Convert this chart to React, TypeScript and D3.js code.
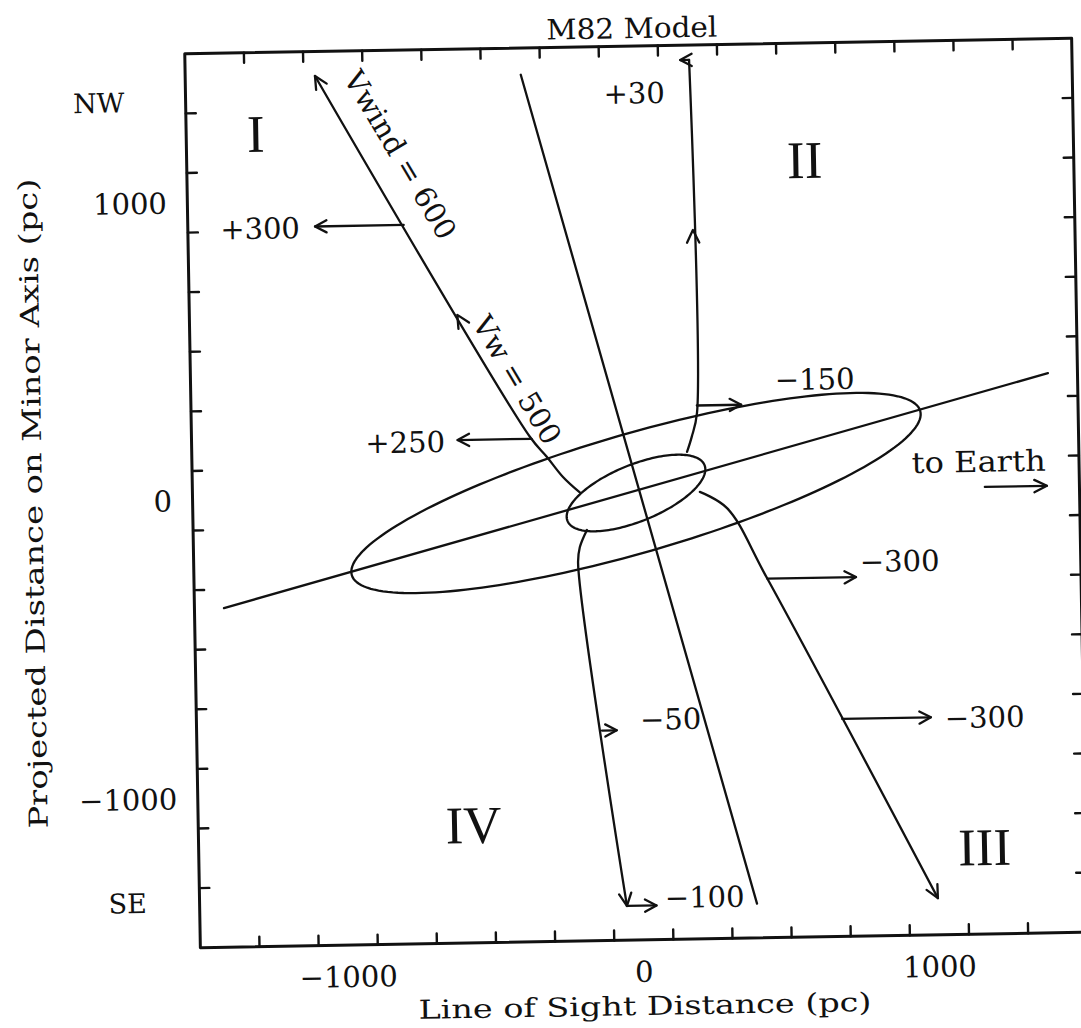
import React from "react";
import * as d3 from "d3";

// ---------- data (in pc) ----------
const X_DOMAIN: [number, number] = [-1500, 1500];
const Y_DOMAIN: [number, number] = [-1500, 1500];
const TICK_STEP = 200;
const MAJOR_TICKS = [-1000, 0, 1000];
const X_TICK_LABELS = ["\u22121000", "0", "1000"];
const Y_TICK_LABELS = ["\u22121000", "0", "1000"];

const TITLE = "M82 Model";
const X_TITLE = "Line of Sight Distance (pc)";
const Y_TITLE = "Projected Distance on Minor Axis (pc)";

// galaxy disk (major axis) and minor axis
const DISK_AXIS: [number, number][] = [[-1400, -362], [1400, 378]];
const MINOR_AXIS: [number, number][] = [[-365, 1410], [385, -1385]];
const OUTER_DISK = { a: 1000, b: 200, angle: 15 };
const INNER_DISK = { a: 250, b: 95, angle: 21 };

// outflow streamlines (cone edges)
const STREAM_NW: [number, number][] = [[-190, 5], [-246, 58], [-299, 126], [-355, 194], [-1061, 1418]];
const STREAM_NE: [number, number][] = [[175, 135], [192, 186], [211, 265], [205, 1450]];
const STREAM_SE: [number, number][] = [[216, 0], [307, -56], [438, -293], [997, -1377]];
const STREAM_SW: [number, number][] = [[-168, -121], [-193, -178], [-200, -231], [-55, -1385]];
const STREAMS = { NW: STREAM_NW, NE: STREAM_NE, SE: STREAM_SE, SW: STREAM_SW };

// line-of-sight velocity arrows (km/s), attached to a streamline at height Y
const VEL_LABELS = ["+300", "+250", "+30", "\u2212150", "\u2212300", "\u2212300", "\u221250", "\u2212100"];
const VEL_VALUES = [300, 250, 30, -150, -300, -300, -50, -100];
const VEL_STREAM = ["NW", "NW", "NE", "NE", "SE", "SE", "SW", "SW"];
const VEL_Y = [913, 188, 1450, 290, -295, -770, -795, -1385];
const VEL_LABEL_X = [-1121, -643, 121, 476, 753, 1031, 0, 74];
const VEL_LABEL_Y = [875, 149, 1307, 337, -278, -807, -795, -1394];
const VEL_LABEL_ANCHOR = ["end", "end", "end", "start", "start", "start", "start", "start"];

// flow-direction arrowheads along the streamlines
const FLOW_STREAM = ["NW", "NW", "NE", "SE", "SW"];
const FLOW_Y = [1418, 608, 879, -1377, -1385];

// region labels
const REGION_LABELS = ["I", "II", "III", "IV"];
const REGION_X = [-1265, 590, 1158, -569];
const REGION_Y = [1167, 1047, -1269, -1165];

const COMPASS_LABELS = ["NW", "SE"];
const COMPASS_X = [-1794, -1743];
const COMPASS_Y = [1307, -1380];

const WIND_LABELS = ["Vwind = 600", "Vw = 500"];
const WIND_X = [-778, -396];
const WIND_Y = [1148, 386];

const EARTH_LABEL = "to Earth";
const EARTH_LABEL_POS: [number, number] = [934, 51];
const EARTH_ARROW: [number, number][] = [[1180, 0], [1390, 0]];

// ---------- helpers ----------
type Pt = [number, number];

function onStream(pts: Pt[], yv: number): Pt {
  for (let i = 0; i < pts.length - 1; i++) {
    const [x0, y0] = pts[i];
    const [x1, y1] = pts[i + 1];
    if ((yv - y0) * (yv - y1) <= 0 && y0 !== y1) {
      const t = (yv - y0) / (y1 - y0);
      return [x0 + t * (x1 - x0), yv];
    }
  }
  return pts[pts.length - 1];
}

function headPath(tip: Pt, ang: number, len = 14, spread = 26): string {
  const s = (spread * Math.PI) / 180;
  const a1 = ang + Math.PI - s;
  const a2 = ang + Math.PI + s;
  return `M${tip[0] + len * Math.cos(a1)},${tip[1] + len * Math.sin(a1)}L${tip[0]},${tip[1]}L${tip[0] + len * Math.cos(a2)},${tip[1] + len * Math.sin(a2)}`;
}

const FONT = "'DejaVu Serif', serif";

export default function App() {
  const W = 1081;
  const H = 1028;
  const FR = { left: 192.5, right: 1079.5, top: 46, bottom: 940 };
  const x = d3.scaleLinear().domain(X_DOMAIN).range([FR.left, FR.right]);
  const y = d3.scaleLinear().domain(Y_DOMAIN).range([FR.bottom, FR.top]);
  const px = (p: Pt): Pt => [x(p[0]), y(p[1])];

  const straight = d3.line<Pt>().x((d) => x(d[0])).y((d) => y(d[1]));
  const smooth = d3
    .line<Pt>()
    .x((d) => x(d[0]))
    .y((d) => y(d[1]))
    .curve(d3.curveCatmullRom.alpha(0.5));

  const ellipse = (e: { a: number; b: number; angle: number }) => {
    const c = Math.cos((e.angle * Math.PI) / 180);
    const s = Math.sin((e.angle * Math.PI) / 180);
    const pts: Pt[] = d3.range(0, 360, 2).map((t) => {
      const r = (t * Math.PI) / 180;
      const u = e.a * Math.cos(r);
      const v = e.b * Math.sin(r);
      return [u * c - v * s, u * s + v * c];
    });
    return straight(pts) + "Z";
  };

  const ticks = d3.range(X_DOMAIN[0] + TICK_STEP / 2 + 100, X_DOMAIN[1], TICK_STEP);
  const isMajor = (t: number) => MAJOR_TICKS.includes(t);
  const minorLen = 10;
  const majorLen = 18;

  const lineAngle = (pts: Pt[], yv: number) => {
    for (let i = 0; i < pts.length - 1; i++) {
      const [, y0] = pts[i];
      const [, y1] = pts[i + 1];
      if ((yv - y0) * (yv - y1) <= 0) {
        const a = px(pts[i]);
        const b = px(pts[i + 1]);
        return Math.atan2(b[1] - a[1], b[0] - a[0]);
      }
    }
    const a = px(pts[pts.length - 2]);
    const b = px(pts[pts.length - 1]);
    return Math.atan2(b[1] - a[1], b[0] - a[0]);
  };

  const nwA = px(STREAM_NW[STREAM_NW.length - 1]);
  const nwB = px(STREAM_NW[STREAM_NW.length - 2]);
  const windAngle = (Math.atan2(nwB[1] - nwA[1], nwB[0] - nwA[0]) * 180) / Math.PI;

  const stroke = "#111";

  return (
    <svg
      width={W}
      height={H}
      viewBox={`0 0 ${W} ${H}`}
      style={{ position: "absolute", left: 0, top: 0, background: "#fff" }}
    >
      <rect x={0} y={0} width={W} height={H} fill="#fff" />
      <g transform="rotate(-1 636 493)" fill="none" stroke={stroke} strokeLinecap="round" strokeLinejoin="round">
        <rect x={FR.left} y={FR.top} width={FR.right - FR.left} height={FR.bottom - FR.top} strokeWidth={3} />
        {ticks.map((t) => {
          const L = isMajor(t) ? majorLen : minorLen;
          return (
            <g key={"t" + t} strokeWidth={2.4}>
              <line x1={x(t)} x2={x(t)} y1={FR.bottom} y2={FR.bottom - L} />
              <line x1={x(t)} x2={x(t)} y1={FR.top} y2={FR.top + L} />
              <line y1={y(t)} y2={y(t)} x1={FR.left} x2={FR.left + L} />
              <line y1={y(t)} y2={y(t)} x1={FR.right} x2={FR.right - L} />
            </g>
          );
        })}

        <path d={straight(DISK_AXIS) || ""} strokeWidth={2.3} />
        <path d={straight(MINOR_AXIS) || ""} strokeWidth={2.3} />
        <path d={ellipse(OUTER_DISK)} strokeWidth={2.3} />
        <path d={ellipse(INNER_DISK)} strokeWidth={2.3} />

        {Object.entries(STREAMS).map(([k, pts]) => (
          <path key={k} d={smooth(pts) || ""} strokeWidth={2.3} />
        ))}

        {FLOW_STREAM.map((k, i) => {
          const pts = STREAMS[k as keyof typeof STREAMS];
          const p = px(onStream(pts, FLOW_Y[i]));
          const a = lineAngle(pts, FLOW_Y[i]);
          return <path key={"f" + i} d={headPath(p, a)} strokeWidth={2.3} />;
        })}

        {VEL_VALUES.map((v, i) => {
          const pts = STREAMS[VEL_STREAM[i] as keyof typeof STREAMS];
          const o = onStream(pts, VEL_Y[i]);
          const e: Pt = [o[0] - v, VEL_Y[i]];
          const a = px(o);
          const b = px(e);
          const ang = Math.atan2(b[1] - a[1], b[0] - a[0]);
          return (
            <g key={"v" + i} strokeWidth={2.3}>
              <line x1={a[0]} y1={a[1]} x2={b[0]} y2={b[1]} />
              <path d={headPath(b, ang, 13, 28)} />
            </g>
          );
        })}

        {(() => {
          const a = px(EARTH_ARROW[0]);
          const b = px(EARTH_ARROW[1]);
          return (
            <g strokeWidth={2.3}>
              <line x1={a[0]} y1={a[1]} x2={b[0]} y2={b[1]} />
              <path d={headPath(b, 0, 14, 26)} />
            </g>
          );
        })()}

        <g stroke="none" fill={stroke} fontFamily={FONT}>
          <text x={640} y={38} fontSize={28} textAnchor="middle" textLength={171} lengthAdjust="spacingAndGlyphs">
            {TITLE}
          </text>
          <text x={(FR.left + FR.right) / 2} y={1015} fontSize={26} textAnchor="middle" textLength={453} lengthAdjust="spacingAndGlyphs">
            {X_TITLE}
          </text>
          <text
            transform={`translate(42, ${(FR.top + FR.bottom) / 2}) rotate(-90)`}
            fontSize={26}
            textAnchor="middle"
            textLength={650}
            lengthAdjust="spacingAndGlyphs"
          >
            {Y_TITLE}
          </text>

          {MAJOR_TICKS.map((t, i) => (
            <text key={"xl" + t} x={x(t)} y={982} fontSize={29} textAnchor="middle">
              {X_TICK_LABELS[i]}
            </text>
          ))}
          {MAJOR_TICKS.map((t, i) => (
            <text key={"yl" + t} x={FR.left - 20.5} y={y(t)} dy="0.36em" fontSize={29} textAnchor="end">
              {Y_TICK_LABELS[i]}
            </text>
          ))}

          {REGION_LABELS.map((s, i) => (
            <text
              key={"r" + s}
              x={x(REGION_X[i])}
              y={y(REGION_Y[i])}
              fontFamily="'Liberation Serif', serif"
              fontSize={53}
              textAnchor="middle"
            >
              {s}
            </text>
          ))}
          {COMPASS_LABELS.map((s, i) => (
            <text key={"c" + s} x={x(COMPASS_X[i])} y={y(COMPASS_Y[i])} fontSize={27} textAnchor="middle">
              {s}
            </text>
          ))}
          {VEL_LABELS.map((s, i) => (
            <text
              key={"vl" + i}
              x={x(VEL_LABEL_X[i])}
              y={y(VEL_LABEL_Y[i])}
              fontSize={29}
              textAnchor={VEL_LABEL_ANCHOR[i] as any}
            >
              {s}
            </text>
          ))}
          <text
            x={x(EARTH_LABEL_POS[0])}
            y={y(EARTH_LABEL_POS[1])}
            fontSize={29}
            textLength={134}
            lengthAdjust="spacingAndGlyphs"
          >
            {EARTH_LABEL}
          </text>
          {WIND_LABELS.map((s, i) => (
            <text
              key={"w" + i}
              transform={`translate(${x(WIND_X[i])}, ${y(WIND_Y[i])}) rotate(${windAngle})`}
              fontSize={29}
              textAnchor="middle"
              dominantBaseline="central"
            >
              {s}
            </text>
          ))}
        </g>
      </g>
    </svg>
  );
}
